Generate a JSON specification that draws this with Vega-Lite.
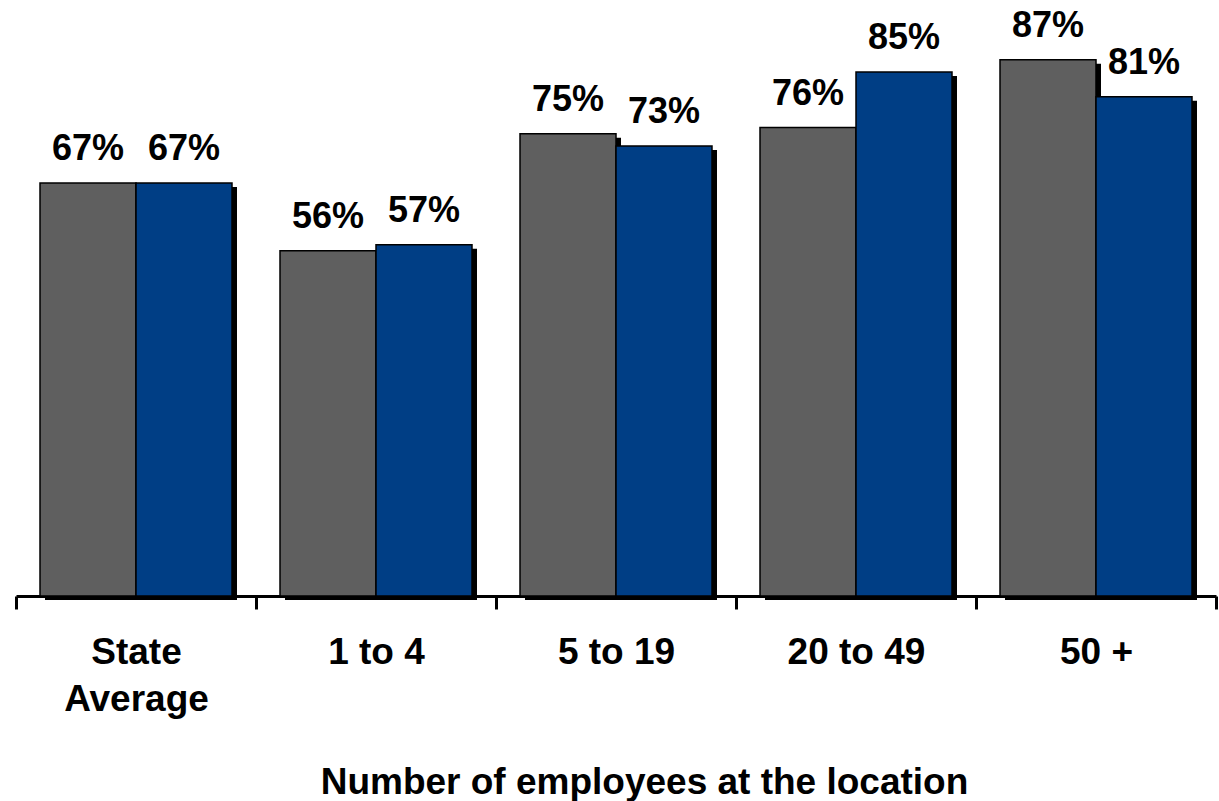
{
  "$schema": "https://vega.github.io/schema/vega-lite/v6.json",
  "width": 1200,
  "height": 596,
  "autosize": {"type": "none"},
  "padding": {"left": 16, "top": 0, "right": 3, "bottom": 205},
  "background": "white",
  "config": {"view": {"stroke": null}, "font": "Liberation Sans"},
  "data": {
    "values": [
      {"group": "State Average", "series": "A", "value": 67, "label": "67%"},
      {"group": "State Average", "series": "B", "value": 67, "label": "67%"},
      {"group": "1 to 4", "series": "A", "value": 56, "label": "56%"},
      {"group": "1 to 4", "series": "B", "value": 57, "label": "57%"},
      {"group": "5 to 19", "series": "A", "value": 75, "label": "75%"},
      {"group": "5 to 19", "series": "B", "value": 73, "label": "73%"},
      {"group": "20 to 49", "series": "A", "value": 76, "label": "76%"},
      {"group": "20 to 49", "series": "B", "value": 85, "label": "85%"},
      {"group": "50 +", "series": "A", "value": 87, "label": "87%"},
      {"group": "50 +", "series": "B", "value": 81, "label": "81%"}
    ]
  },
  "encoding": {
    "x": {
      "field": "group",
      "type": "nominal",
      "sort": ["State Average", "1 to 4", "5 to 19", "20 to 49", "50 +"],
      "scale": {"paddingInner": 0, "paddingOuter": 0},
      "title": "Number of employees at the location",
      "axis": {
        "labelAngle": 0,
        "labelExpr": "datum.value == 'State Average' ? ['State', 'Average'] : datum.label",
        "labelFontSize": 37,
        "labelFontWeight": "bold",
        "labelColor": "black",
        "labelLineHeight": 47,
        "labelBaseline": "top",
        "labelPadding": 25,
        "tickBand": "extent",
        "tickColor": "black",
        "tickWidth": 3,
        "tickSize": 13,
        "domainColor": "black",
        "domainWidth": 3,
        "titleFontSize": 37,
        "titleFontWeight": "bold",
        "titleColor": "black",
        "titlePadding": 47,
        "titleX": 628
      }
    },
    "y": {"field": "value", "type": "quantitative", "scale": {"domain": [0, 96.7]}, "axis": null}
  },
  "layer": [
    {
      "mark": {"type": "bar", "color": "black", "yOffset": 4},
      "encoding": {
        "xOffset": {"field": "series", "scale": {"paddingInner": 0, "paddingOuter": 0.25, "range": [5, 245]}}
      }
    },
    {
      "encoding": {
        "xOffset": {"field": "series", "scale": {"paddingInner": 0, "paddingOuter": 0.25, "range": [0, 240]}}
      },
      "layer": [
        {
          "mark": {"type": "bar", "stroke": "black", "strokeWidth": 1.5},
          "encoding": {
            "color": {"field": "series", "type": "nominal", "scale": {"range": ["#5F5F5F", "#003E85"]}, "legend": null}
          }
        },
        {
          "mark": {"type": "text", "baseline": "alphabetic", "dy": -23, "fontSize": 36, "fontWeight": "bold", "color": "black"},
          "encoding": {"text": {"field": "label"}}
        }
      ]
    }
  ],
  "resolve": {"scale": {"xOffset": "independent"}}
}
